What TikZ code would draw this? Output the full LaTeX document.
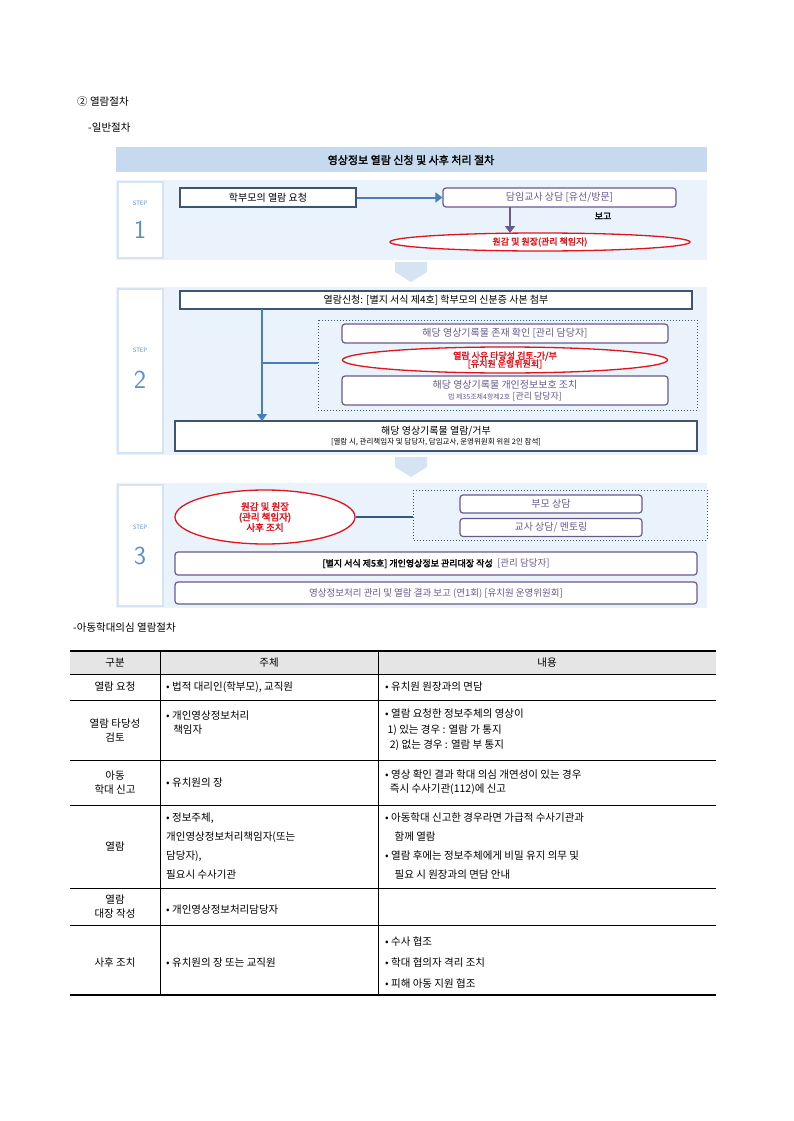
\documentclass[tikz,border=0pt]{standalone}
\usepackage{fontspec}
\setmainfont{Noto Sans CJK KR}
\newfontfamily\kb{Noto Sans CJK KR}[FakeBold=2]
\usetikzlibrary{arrows.meta,shapes.geometric}
\definecolor{pnl}{HTML}{EAF3FB}
\definecolor{ttl}{HTML}{C6DAEF}
\definecolor{bx}{HTML}{3D5570}
\definecolor{pur}{HTML}{6A5A8C}
\definecolor{arr}{HTML}{4A7EBB}
\definecolor{stp}{HTML}{5B8FC9}
\definecolor{chev}{HTML}{D5E3F2}
\definecolor{rd}{HTML}{E0141E}
\tikzset{
 panel/.style={fill=pnl,draw=white,line width=1pt},
 sqbox/.style={draw=bx,line width=1.2pt,fill=white},
 rbox/.style={draw=pur,line width=1.2pt,rounded corners=3pt,fill=white},
 redell/.style={ellipse,draw=rd,line width=1.3pt,fill=white,inner sep=0pt,text=rd,align=center,font=\kb\fontsize{9}{10}\selectfont},
 dotbox/.style={draw=bx,dotted,line width=1pt},
 tx/.style={font=\fontsize{10}{12}\selectfont},
 ttx/.style={font=\fontsize{10.5}{14}\selectfont,align=left,anchor=west,inner sep=0pt},
 tc/.style={font=\fontsize{10.5}{14}\selectfont,align=center,inner sep=0pt},
 blarr/.style={draw=arr,line width=2pt,-{Triangle[length=7pt,width=10pt]}},
}
\begin{document}
\begin{tikzpicture}[x=1pt,y=-1pt]
\useasboundingbox (0,0) rectangle (793,1121);
\node[anchor=west,tc] (h1) at (77,102) {② 열람절차};
\node[anchor=west,tc] (h2) at (88,128) {-일반절차};
% title
\fill[ttl] (116,147) rectangle (707,172);
\node[font=\kb\fontsize{11}{12}\selectfont] (title) at (411,160) {영상정보 열람 신청 및 사후 처리 절차};
% chevrons
\foreach \y/\n in {262/c1,457/c2}{
 \fill[chev] (395,\y) -- (427,\y) -- (427,\y+10) -- (411,\y+20) -- (395,\y+10) -- cycle;}
% panels
\foreach \a/\b/\s/\ys/\yn in {180/260/1/203/230, 287/455/2/350/380, 483/608/3/527/556}{
 \fill[pnl] (116,\a) rectangle (707,\b);
 \draw[draw=chev,line width=1.5pt,fill=white] (118,\a+2) rectangle (163,\b-2);
 \node[text=stp,font=\fontsize{6}{7}\selectfont] at (140,\ys) {STEP};
 \node[text=stp,font=\sffamily\fontsize{26}{28}\selectfont] at (140,\yn) {\s};
}
% step 1
\node[sqbox,minimum width=176,minimum height=19,tx] (a1) at (268,197.5) {학부모의 열람 요청};
\node[rbox,minimum width=233,minimum height=19,tx,text=pur] (a2) at (559.5,197.5) {담임교사 상담 [유선/방문]};
\draw[blarr] (a1.east) -- (a2.west);
\node[redell,minimum width=300,minimum height=18] (a3) at (540,242) {원감 및 원장(관리 책임자)};
\draw[draw=pur,line width=2pt,-{Triangle[length=7pt,width=10pt]}] (510,207) -- (510,233);
\node[font=\kb\fontsize{9}{10}\selectfont] (bg) at (603,216) {보고};
% step 2
\node[sqbox,minimum width=512,minimum height=18,tx] (b1) at (436,300) {열람신청: [별지 서식 제4호] 학부모의 신분증 사본 첨부};
\draw[dotbox] (318,320) rectangle (697,410);
\coordinate (dl) at (318,363);
\node[rbox,minimum width=326,minimum height=19,tx,text=pur] (b2) at (505,333.5) {해당 영상기록물 존재 확인 [관리 담당자]};
\node[redell,minimum width=325,minimum height=26] (b3) at (505,360) {열람 사유 타당성 검토-가/부\\[-2pt][유치원 운영위원회]};
\node[rbox,minimum width=326,minimum height=29,text=pur,align=center] (b4) at (505,390.5) {\fontsize{10}{11}\selectfont 해당 영상기록물 개인정보보호 조치\\[-1pt]{\fontsize{7}{8}\selectfont 법 제35조제4항제2호} {\fontsize{9}{10}\selectfont [관리 담당자]}};
\node[sqbox,minimum width=522,minimum height=30,align=center] (b5) at (436,436) {\fontsize{10}{11}\selectfont 해당 영상기록물 열람/거부\\[-2pt]{\fontsize{7.5}{9}\selectfont [열람 시, 관리책임자 및 담당자, 담임교사, 운영위원회 위원 2인 참석]}};
\coordinate (v0) at (262,309);
\coordinate (v1) at (262,421);
\draw[blarr] (v0) -- (v1);
\draw[draw=arr,line width=2pt] (262,363) -- (dl);
% step 3
\node[redell,minimum width=180,minimum height=54,font=\kb\fontsize{9.5}{10.5}\selectfont] (c1) at (265,517) {원감 및 원장\\(관리 책임자)\\사후 조치};
\draw[dotbox] (413,490) rectangle (707,540);
\coordinate (dl3) at (413,517);
\draw[draw=arr!70!black,line width=1.2pt] (c1.east) -- (dl3);
\node[rbox,minimum width=182,minimum height=18,tx,text=pur] (c2) at (551,504) {부모 상담};
\node[rbox,minimum width=182,minimum height=18,tx,text=pur] (c3) at (551,527.5) {교사 상담/ 멘토링};
\node[rbox,minimum width=522,minimum height=23] (c4) at (436,563.5) {{\kb\fontsize{9}{10}\selectfont [별지 서식 제5호] 개인영상정보 관리대장 작성}\ \ {\color{pur}\fontsize{9.5}{10}\selectfont [관리 담당자]}};
\node[rbox,minimum width=522,minimum height=22,text=pur,font=\fontsize{9.5}{10}\selectfont] (c5) at (436,593) {영상정보처리 관리 및 열람 결과 보고 (연1회) [유치원 운영위원회]};
% table
\node[anchor=west,tc] (h3) at (73,628) {-아동학대의심 열람절차};
\fill[gray!20] (70,651) rectangle (716,674);
\draw[line width=1.3pt] (70,651) -- (716,651);
\draw[line width=1.3pt] (70,995) -- (716,995);
\draw[line width=0.6pt] (70,674) -- (716,674);
\foreach \y in {700,760,805,888,925}{\draw[line width=0.5pt] (70,\y) -- (716,\y);}
\foreach \x in {160,378}{\draw[line width=0.5pt] (\x,651) -- (\x,995);}
\node[tc] (t00) at (115,662.5) {구분};
\node[tc] (t01) at (269,662.5) {주체};
\node[tc] (t02) at (547,662.5) {내용};
\node[tc] (r1a) at (115,687) {열람 요청};
\node[ttx] (r1b) at (166,687) {• 법적 대리인(학부모), 교직원};
\node[ttx] (r1c) at (385,687) {• 유치원 원장과의 면담};
\node[tc] (r2a) at (115,730) {열람 타당성\\검토};
\node[ttx] (r2b) at (166,723) {• 개인영상정보처리\\\ \ \ 책임자};
\node[ttx,font=\fontsize{10.5}{15.5}\selectfont] (r2c) at (385,730) {• 열람 요청한 정보주체의 영상이\\\ 1) 있는 경우 : 열람 가 통지\\\ \ 2) 없는 경우 : 열람 부 통지};
\node[tc] (r3a) at (115,782.5) {아동\\학대 신고};
\node[ttx] (r3b) at (166,782.5) {• 유치원의 장};
\node[ttx] (r3c) at (385,782.5) {• 영상 확인 결과 학대 의심 개연성이 있는 경우\\\ \ 즉시 수사기관(112)에 신고};
\node[tc] (r4a) at (115,846.5) {열람};
\node[ttx,font=\fontsize{10.5}{19}\selectfont] (r4b) at (166,846.5) {• 정보주체,\\개인영상정보처리책임자(또는\\담당자),\\필요시 수사기관};
\node[ttx,font=\fontsize{10.5}{19}\selectfont] (r4c) at (385,846.5) {• 아동학대 신고한 경우라면 가급적 수사기관과\\\ \ \ \ 함께 열람\\• 열람 후에는 정보주체에게 비밀 유지 의무 및\\\ \ \ \ 필요 시 원장과의 면담 안내};
\node[tc] (r5a) at (115,906.5) {열람\\대장 작성};
\node[ttx] (r5b) at (166,910) {• 개인영상정보처리담당자};
\node[tc] (r6a) at (115,963) {사후 조치};
\node[ttx] (r6b) at (166,963) {• 유치원의 장 또는 교직원};
\node[ttx,font=\fontsize{10.5}{21}\selectfont] (r6c) at (385,963) {• 수사 협조\\• 학대 협의자 격리 조치\\• 피해 아동 지원 협조};
\end{tikzpicture}
\end{document}
